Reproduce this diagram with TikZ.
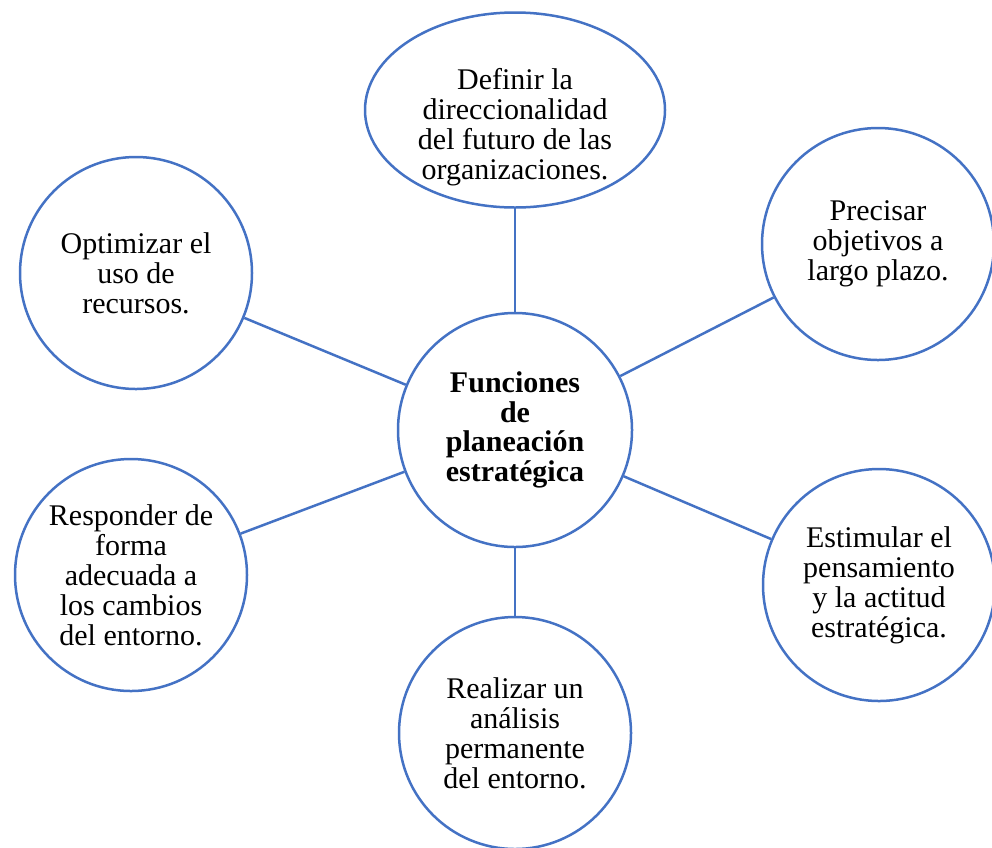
\documentclass[tikz,border=0pt]{standalone}
\usepackage{fontspec}
\setmainfont{Liberation Serif}
\usetikzlibrary{shapes.geometric}
\definecolor{rim}{HTML}{4472C4}
\begin{document}
\begin{tikzpicture}[x=1pt,y=-1pt,
  label text/.style={align=center, font=\fontsize{30}{30}\selectfont},
  bubble/.style={circle, draw=rim, line width=2.5pt, minimum size=232pt,
                 inner sep=0pt, label text},
  link/.style={draw=rim, line width=2.5pt}]
\useasboundingbox (0,0) rectangle (992,847);

% central idea
\node[bubble, minimum size=234pt, font=\fontsize{30}{29.5}\selectfont\bfseries] (hub) at (515,430)
  {Funciones\\de\\planeación\\estratégica};

% surrounding functions
\node[ellipse, draw=rim, line width=2.5pt, minimum width=300pt, minimum height=195pt,
      inner sep=0pt] (def) at (515,110) {};
\node[label text] (deftext) at (515,127)
  {Definir la\\direccionalidad\\del futuro de las\\organizaciones.};
\node[bubble] (obj) at (878,244) {Precisar\\objetivos a\\largo plazo.};
\node[bubble] (opt) at (136,273) {Optimizar el\\uso de\\recursos.};
\node[bubble] (resp) at (131,575) {Responder de\\forma\\adecuada a\\los cambios\\del entorno.};
\node[bubble] (est) at (879,585) {Estimular el\\pensamiento\\y la actitud\\estratégica.};
\node[bubble] (ana) at (515,733) {Realizar un\\análisis\\permanente\\del entorno.};

% spokes
\draw[link] (hub) -- (def);
\draw[link] (hub) -- (obj);
\draw[link] (hub) -- (opt);
\draw[link] (hub) -- (resp);
\draw[link] (hub) -- (est);
\draw[link] (hub) -- (ana);
\end{tikzpicture}
\end{document}
